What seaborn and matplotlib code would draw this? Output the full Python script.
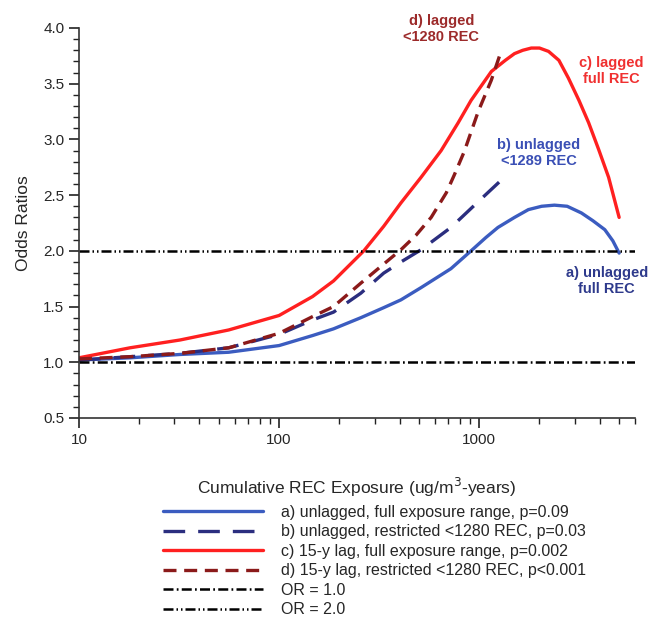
import numpy as np
import pandas as pd
import matplotlib
matplotlib.use("Agg")
import matplotlib.pyplot as plt
import matplotlib.ticker as mticker
import seaborn as sns

# --- data ---
exp_a = [10, 18, 32, 56, 100, 147, 187, 256, 333, 406, 512, 722, 910, 1080, 1240, 1500,
         1760, 2050, 2375, 2750, 3240, 3700, 4240, 4650, 5000]
or_a = [1.02, 1.04, 1.07, 1.09, 1.15, 1.24, 1.30, 1.40, 1.49, 1.56, 1.67, 1.84, 2.00, 2.12, 2.21, 2.30,
        2.37, 2.40, 2.41, 2.40, 2.34, 2.27, 2.19, 2.09, 1.98]

exp_b = [10, 18, 32, 56, 100, 147, 187, 256, 333, 406, 512, 722, 1000, 1280]
or_b = [1.02, 1.05, 1.08, 1.13, 1.25, 1.38, 1.45, 1.62, 1.80, 1.90, 2.01, 2.21, 2.45, 2.63]

exp_c = [10, 18, 32, 56, 100, 147, 187, 265, 333, 406, 512, 645, 785, 910, 1150, 1350, 1500, 1650,
         1820, 2000, 2220, 2500, 2790, 3150, 3520, 3950, 4430, 5000]
or_c = [1.04, 1.13, 1.20, 1.29, 1.42, 1.59, 1.73, 2.00, 2.22, 2.43, 2.66, 2.90, 3.15, 3.35, 3.61, 3.71, 3.77, 3.80,
        3.82, 3.82, 3.79, 3.71, 3.55, 3.35, 3.15, 2.91, 2.66, 2.30]

exp_d = [10, 18, 32, 56, 100, 147, 187, 256, 406, 483, 575, 684, 750, 841, 988, 1148, 1280]
or_d = [1.03, 1.05, 1.08, 1.13, 1.26, 1.41, 1.50, 1.71, 2.01, 2.14, 2.30, 2.52, 2.68, 2.89, 3.25, 3.53, 3.78]

labels = ["a) unlagged, full exposure range, p=0.09",
          "b) unlagged, restricted <1280 REC, p=0.03",
          "c) 15-y lag, full exposure range, p=0.002",
          "d) 15-y lag, restricted <1280 REC, p<0.001",
          "OR = 1.0",
          "OR = 2.0"]

x_ticks = [10, 100, 1000]
y_ticks = [0.5, 1.0, 1.5, 2.0, 2.5, 3.0, 3.5, 4.0]

sns.set_style("ticks")
plt.rcParams['font.family'] = ['Liberation Sans', 'DejaVu Sans']

fig, ax = plt.subplots(figsize=(6.49, 6.22), dpi=100)
fig.subplots_adjust(left=0.1217, right=0.9784, top=0.955, bottom=0.328)

line_kw = dict(lw=2.4, solid_joinstyle="round", dash_joinstyle="round")
sns.lineplot(x=exp_a, y=or_a, ax=ax, color="#3b5cc0", label=labels[0], **line_kw)
sns.lineplot(x=exp_b, y=or_b, ax=ax, color="#2b2e7f",
             linestyle=(0, (6.5, 3.9)), label=labels[1], **line_kw)
sns.lineplot(x=exp_c, y=or_c, ax=ax, color="#ff2020", label=labels[2], **line_kw)
sns.lineplot(x=exp_d, y=or_d, ax=ax, color="#8b1a1a",
             linestyle=(0, (3.9, 2.3)), label=labels[3], **line_kw)

ax.axhline(1.0, color="black", lw=1.8, linestyle=(0, (4, 1.3, 0.7, 1.3)), label=labels[4])
ax.axhline(2.0, color="black", lw=1.8,
           linestyle=(0, (4, 1.2, 0.6, 1.2, 0.6, 1.2)), label=labels[5])

ax.set_xscale("log")
ax.set_xlim(10, 6000)
ax.set_ylim(0.5, 4.0)
ax.xaxis.set_major_locator(mticker.FixedLocator(x_ticks))
ax.xaxis.set_major_formatter(mticker.FixedFormatter([str(t) for t in x_ticks]))
ax.xaxis.set_minor_locator(mticker.LogLocator(base=10, subs=np.arange(2, 10), numticks=20))
ax.xaxis.set_minor_formatter(mticker.NullFormatter())
ax.set_yticks(y_ticks)
ax.set_yticklabels([f"{t:.1f}" for t in y_ticks])
ax.yaxis.set_minor_locator(mticker.MultipleLocator(0.1))

ax.tick_params(which="major", length=7, width=1.2, labelsize=11, color="#222222")
ax.tick_params(which="minor", length=4, width=1.0, color="#222222")
sns.despine(ax=ax)
for s in ["left", "bottom"]:
    ax.spines[s].set_linewidth(1.2)
    ax.spines[s].set_color("#333333")

ax.set_xlabel("Cumulative REC Exposure (ug/m$^3$-years)", fontsize=12.5, labelpad=21)
ax.set_ylabel("Odds Ratios", fontsize=12.5, labelpad=9)

# curve annotations
ann = dict(fontsize=10.5, fontweight="bold", ha="center", va="center", clip_on=False, linespacing=1.2)
ax.text(646, 3.99, "d) lagged\n<1280 REC", color="#9c2a2a", **ann)
ax.text(4590, 3.615, "c) lagged\nfull REC", color="#f03030", **ann)
ax.text(1977, 2.88, "b) unlagged\n<1289 REC", color="#3a4fb5", **ann)
ax.text(4340, 1.73, "a) unlagged\nfull REC", color="#2e3a8c", **ann)

ax.legend(loc="upper left", bbox_to_anchor=(163 / 649, 1 - 505 / 622),
          bbox_transform=fig.transFigure, frameon=False, fontsize=11.5,
          handlelength=6.26, handletextpad=1.1, labelspacing=0.28,
          borderpad=0, borderaxespad=0)

fig.savefig("out.png", dpi=100)
